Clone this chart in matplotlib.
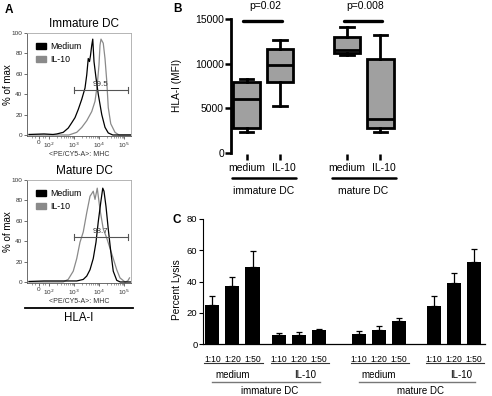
import numpy as np
import matplotlib
matplotlib.use("Agg")
import matplotlib.pyplot as plt
from matplotlib.patches import Patch
from matplotlib.lines import Line2D

plt.rcParams['font.family'] = ['Liberation Sans', 'DejaVu Sans']

W, H = 492, 396

# ---- panel A: histograms (x in decades of fluorescence, y in % of max)
imm_med_x = [1.2, 1.8, 2.16, 2.31, 2.57, 2.77, 2.91, 3.04, 3.17, 3.31, 3.44, 3.51, 3.57, 3.62, 3.66,
             3.71, 3.75, 3.80, 3.88, 3.97, 4.11, 4.24, 4.37, 4.55, 5.3]
imm_med_y = [0.5, 1, 0.5, 1, 2.6, 6.8, 12, 17, 25, 35, 46, 59, 75, 72, 78,
             88, 94, 72, 56, 40, 20, 7.5, 2, 0, 0]
imm_il_x = [1.2, 2.8, 3.11, 3.31, 3.51, 3.71, 3.84, 3.93, 4.00, 4.04, 4.08, 4.17, 4.24, 4.31,
            4.37, 4.47, 4.64, 4.8, 5.3]
imm_il_y = [0, 0, 2.6, 7.4, 14, 23, 33, 49, 69, 88, 94, 90, 75, 53,
            27, 11, 2.6, 0, 0]
mat_med_x = [1.2, 1.8, 2.5, 3.11, 3.37, 3.51, 3.64, 3.77, 3.88, 3.97, 4.07, 4.15, 4.20, 4.28,
             4.37, 4.47, 4.57, 4.71, 4.85, 5.3]
mat_med_y = [0.5, 1, 1, 1, 2.5, 5.8, 12, 23, 39, 59, 78, 92, 89, 74,
             52, 30, 10.6, 1.6, 0, 0]
mat_il_x = [1.2, 2.57, 2.77, 2.97, 3.11, 3.24, 3.37, 3.51, 3.64, 3.77, 3.84, 3.93, 4.04, 4.17,
            4.31, 4.44, 4.57, 4.71, 4.84, 5.04, 5.15, 5.22]
mat_il_y = [0, 0, 2.6, 10.6, 23, 39, 49, 68, 84, 89, 81, 92, 71, 52,
            43, 33, 23, 12, 4, 0, 1, 4]
gate_imm = 99.5
gate_mat = 98.7

# ---- panel B: box plots of HLA-I MFI
box_labels = ['medium', 'IL-10', 'medium', 'IL-10']
box_pos = [1, 2, 4, 5]
whis_lo = [2300, 5300, 11000, 2350]
q1 = [2800, 7950, 11200, 2750]
med = [6100, 9900, 11500, 3850]
q3 = [7900, 11600, 12950, 10550]
whis_hi = [8300, 12700, 14100, 13250]
p_vals = ['p=0.02', 'p=0.008']

# ---- panel C: percent lysis
ratios = ['1:10', '1:20', '1:50']
treat = ['medium', 'IL-10', 'medium', 'IL-10']
dc = ['immature DC', 'mature DC']
lysis = [[25.2, 36.9, 49.3], [5.5, 5.8, 9.2], [6.4, 9.2, 14.7], [24.5, 39.3, 52.3]]
lysis_err = [[5.3, 5.8, 10.4], [1.5, 1.9, 0.4], [1.7, 2.1, 2.2], [6.4, 6.1, 8.3]]


def rect(l, t, r, b):
    return [l / W, 1 - b / H, (r - l) / W, (b - t) / H]


def ftext(x, y, s, **kw):
    fig.text(x / W, 1 - y / H, s, **kw)


fig = plt.figure(figsize=(W / 100, H / 100), dpi=100)

# ---------------- A
def hist_panel(top, bottom, title, title_y, med_x, med_y, il_x, il_y, gate):
    ax = fig.add_axes(rect(27, top, 131, bottom))
    ax.plot(il_x, il_y, color='#8a8a8a', lw=0.9)
    ax.plot(med_x, med_y, color='black', lw=0.9)
    ax.set_xlim(1.12, 5.28)
    ax.set_ylim(-1, 100)
    ax.set_yticks([0, 20, 40, 60, 80, 100])
    ax.set_xticks([1.6, 2, 3, 4, 5])
    ax.set_xticklabels(['0', '10$^2$', '10$^3$', '10$^4$', '10$^5$'])
    minors = [d + np.log10(k) for d in (2, 3, 4) for k in range(2, 10)] + [1.3, 1.45, 1.75, 1.85]
    ax.set_xticks(minors, minor=True)
    ax.tick_params(labelsize=4.6, length=2, width=0.5, pad=1.2, colors='#333')
    ax.tick_params(which='minor', length=1.2, width=0.4, colors='#555')
    for s in ax.spines.values():
        s.set_linewidth(0.6)
        s.set_color('#555')
    ax.spines['top'].set_color('#aaa')
    ax.spines['right'].set_color('#aaa')
    ax.set_xlabel('<PE/CY5-A>: MHC', fontsize=5, labelpad=1, color='#333')
    yg = 44.5
    ax.plot([3.01, 5.17], [yg, yg], color='#555', lw=0.8)
    ax.plot([3.01, 3.01], [yg - 3, yg + 3], color='#555', lw=0.8)
    ax.plot([5.17, 5.17], [yg - 3, yg + 3], color='#555', lw=0.8)
    ax.text(4.05, yg + 1.5, f'{gate}', fontsize=5.8, ha='center', va='bottom', color='#333')
    handles = [Patch(facecolor='black', edgecolor='black'), Patch(facecolor='#8a8a8a', edgecolor='#8a8a8a')]
    ax.legend(handles, ['Medium', 'IL-10'], loc='upper left', frameon=False, fontsize=6.3,
              handlelength=1.1, handleheight=0.8, handletextpad=0.5, labelspacing=0.45,
              borderaxespad=0.4, bbox_to_anchor=(0.02, 0.98))
    ftext(84, title_y, title, fontsize=8.5, ha='center', va='center')
    ftext(8, (top + bottom) / 2, '% of max', fontsize=7, rotation=90, ha='center', va='center')
    return ax


hist_panel(33, 136, 'Immature DC', 24, imm_med_x, imm_med_y, imm_il_x, imm_il_y, gate_imm)
hist_panel(180, 283, 'Mature DC', 171, mat_med_x, mat_med_y, mat_il_x, mat_il_y, gate_mat)
fig.add_artist(Line2D([25 / W, 133 / W], [1 - 308 / H, 1 - 308 / H], color='black', lw=1.3))
ftext(79, 318, 'HLA-I', fontsize=8.3, ha='center', va='center')
ftext(9, 10, 'A', fontsize=8.5, fontweight='bold', ha='center', va='center')

# ---------------- B
axb = fig.add_axes(rect(231, 19, 397, 153))
stats = [dict(whislo=a, q1=b, med=c, q3=d, whishi=e, fliers=[])
         for a, b, c, d, e in zip(whis_lo, q1, med, q3, whis_hi)]
blw = 2.0
axb.bxp(stats, positions=box_pos, widths=0.8, patch_artist=True, showfliers=False,
        boxprops=dict(facecolor='#a0a0a0', edgecolor='black', linewidth=blw),
        medianprops=dict(color='black', linewidth=blw),
        whiskerprops=dict(color='black', linewidth=blw),
        capprops=dict(color='black', linewidth=blw), capwidths=0.4)
axb.set_xlim(0.53, 5.5)
axb.set_ylim(0, 15000)
axb.set_yticks([0, 5000, 10000, 15000])
axb.set_xticks(box_pos)
axb.set_xticklabels([])
axb.tick_params(axis='y', labelsize=7.5, length=4, width=1.8, pad=1)
axb.tick_params(axis='x', length=4, width=1.8)
for s in ['top', 'right', 'bottom']:
    axb.spines[s].set_visible(False)
axb.spines['left'].set_linewidth(blw)
axb.spines['bottom'].set_position(('outward', 1))
for p, lab in zip(box_pos, box_labels):
    dx = 0.1 if lab == 'IL-10' else 0
    axb.text(p + dx, -0.112, lab, transform=axb.get_xaxis_transform(), fontsize=7.5,
             ha='center', va='center')
for g, name in enumerate(dc):
    p0, p1 = box_pos[2 * g], box_pos[2 * g + 1]
    axb.plot([p0 - 0.45, p1 + 0.47], [-0.187, -0.187], transform=axb.get_xaxis_transform(),
             color='black', lw=1.8, clip_on=False, solid_capstyle='round')
    axb.text((p0 + p1) / 2, -0.28, name, transform=axb.get_xaxis_transform(), fontsize=7.5,
             ha='center', va='center')
    axb.plot([p0 - 0.1, p1 + 0.05], [14800, 14800], color='black', lw=2.4, clip_on=False,
             solid_capstyle='round')
    axb.text((p0 + p1) / 2 + 0.05, 1.095, p_vals[g], transform=axb.get_xaxis_transform(),
             fontsize=7.5, ha='center', va='center')
ftext(177, 86, 'HLA-I (MFI)', fontsize=7.3, rotation=90, ha='center', va='center')
ftext(177, 9, 'B', fontsize=8.5, fontweight='bold', ha='center', va='center')

# ---------------- C
axc = fig.add_axes(rect(203, 219, 485, 344))
group_start = [0, 3.3, 7.3, 11.05]
xs = []
for g in range(4):
    pos = [group_start[g] + i for i in range(3)]
    xs += pos
    axc.bar(pos, lysis[g], width=0.7, color='black', zorder=2)
    axc.errorbar(pos, lysis[g], yerr=[[0, 0, 0], lysis_err[g]], fmt='none', ecolor='black',
                 elinewidth=0.9, capsize=2.5, capthick=0.9, zorder=1)
axc.set_xlim(-0.47, 13.6)
axc.set_ylim(0, 80)
axc.set_yticks([0, 20, 40, 60, 80])
axc.set_xticks(xs)
axc.set_xticklabels(ratios * 4)
axc.tick_params(axis='x', length=0, labelsize=6.2, pad=8)
axc.tick_params(axis='y', length=3, width=0.8, labelsize=6.8, pad=1)
axc.spines['top'].set_visible(False)
axc.spines['right'].set_visible(False)
axc.spines['left'].set_linewidth(0.8)
axc.spines['bottom'].set_linewidth(0.9)
tr = axc.get_xaxis_transform()
centers = [s + 1 for s in group_start]
for g in range(4):
    c = centers[g]
    axc.plot([c - 1.4, c + 1.5], [-0.152, -0.152], transform=tr, color='#333', lw=0.8,
             clip_on=False)
    dx = 0.35 if treat[g] == 'IL-10' else 0
    axc.text(c + dx, -0.245, treat[g], transform=tr, fontsize=7, ha='center', va='center')
for k, name in enumerate(dc):
    c0, c1 = centers[2 * k], centers[2 * k + 1]
    axc.plot([c0 - 1.0, c1 + 1.05], [-0.305, -0.305], transform=tr, color='#777', lw=1.0,
             clip_on=False)
    axc.text((c0 + c1) / 2 + 0.2, -0.377, name, transform=tr, fontsize=7,
             ha='center', va='center')
ftext(177, 290, 'Percent Lysis', fontsize=7.3, rotation=90, ha='center', va='center')
ftext(177, 220, 'C', fontsize=8.5, fontweight='bold', ha='center', va='center')

fig.savefig('out.png', dpi=100)
